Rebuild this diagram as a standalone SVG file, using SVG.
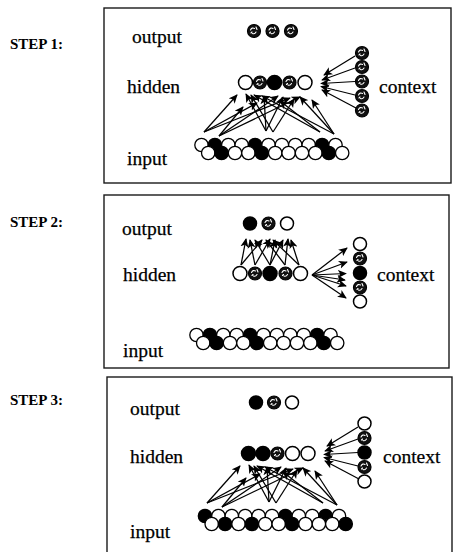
<svg xmlns="http://www.w3.org/2000/svg" xmlns:xlink="http://www.w3.org/1999/xlink" width="453" height="552" viewBox="0 0 453 552">
  <style>
    .frame { fill: none; stroke: #1a1a1a; stroke-width: 1.4; }
    .step { font-family: "Liberation Serif", "Times New Roman", serif; font-weight: bold; font-size: 15px; fill: #000; }
    .lbl { font-family: "Liberation Serif", "Times New Roman", serif; font-size: 19.5px; fill: #000; stroke: #000; stroke-width: 0.25; }
    .w { fill: #fff; stroke: #000; stroke-width: 1.5; }
    .b { fill: #000; stroke: #000; stroke-width: 1.5; }
    .in { stroke-width: 1.3; }
    .arr { stroke: #000; stroke-width: 1.25; fill: none; marker-end: url(#tip); }
  </style>
  <defs>
    <marker id="tip" viewBox="0 0 10 10" refX="9" refY="5" markerWidth="9" markerHeight="9" markerUnits="userSpaceOnUse" orient="auto">
      <path d="M0,0.5 L10,5 L0,9.5 L2.5,5 Z" fill="#000"/>
    </marker>
    <!-- partially active unit: dark disc with light flecks -->
    <g id="hu">
      <circle r="6.5" fill="#111" stroke="#000" stroke-width="1.2"/>
      <path d="M-3.5,-1 q1.5,-3 4,-1.5 M-1.5,2.5 q2,1 3.5,-1.5 M2,-4 l1,2.5 M-3,2 l1,-1" stroke="#fff" stroke-width="1.1" fill="none" stroke-linecap="round"/>
    </g>
    <!-- input-to-hidden and context-to-hidden wiring, shared by steps 1 and 3 -->
    <g id="wiring">
      <line class="arr" x1="204" y1="132" x2="237" y2="95"/>
      <line class="arr" x1="204" y1="132" x2="257" y2="103"/>
      <line class="arr" x1="204" y1="132" x2="290" y2="98"/>
      <line class="arr" x1="219" y1="136" x2="243" y2="107"/>
      <line class="arr" x1="219" y1="136" x2="278" y2="96"/>
      <line class="arr" x1="219" y1="136" x2="300" y2="97"/>
      <line class="arr" x1="266" y1="131" x2="246" y2="94"/>
      <line class="arr" x1="266" y1="131" x2="264" y2="96"/>
      <line class="arr" x1="266" y1="131" x2="283" y2="97"/>
      <line class="arr" x1="273" y1="132" x2="251" y2="95"/>
      <line class="arr" x1="273" y1="132" x2="294" y2="99"/>
      <line class="arr" x1="320" y1="132" x2="254" y2="95"/>
      <line class="arr" x1="320" y1="132" x2="280" y2="101"/>
      <line class="arr" x1="334" y1="134" x2="312" y2="100"/>
      <line class="arr" x1="334" y1="134" x2="262" y2="96"/>
      <line class="arr" x1="334" y1="134" x2="300" y2="97"/>
      <line class="arr" x1="355" y1="56" x2="324" y2="75"/>
      <line class="arr" x1="355" y1="68" x2="322" y2="80"/>
      <line class="arr" x1="355" y1="81.5" x2="321" y2="83.5"/>
      <line class="arr" x1="355" y1="95" x2="321" y2="86.5"/>
      <line class="arr" x1="356" y1="108" x2="322" y2="90"/>
    </g>
  </defs>

  <!-- ===== STEP 1 ===== -->
  <text class="step" x="10" y="49">STEP 1:</text>
  <rect class="frame" x="104" y="8" width="347" height="175"/>
  <text class="lbl" x="132" y="43">output</text>
  <text class="lbl" x="127" y="93">hidden</text>
  <text class="lbl" x="379" y="93">context</text>
  <text class="lbl" x="127" y="165">input</text>

  <g id="s1-connectors">
    <use xlink:href="#wiring"/>
  </g>

  <g id="s1-output">
    <use xlink:href="#hu" x="254" y="31"/>
    <use xlink:href="#hu" x="272.5" y="31"/>
    <use xlink:href="#hu" x="291" y="31"/>
  </g>
  <g id="s1-hidden">
    <circle class="w" cx="245.5" cy="82.5" r="7"/>
    <use xlink:href="#hu" x="260" y="82.5"/>
    <circle class="b" cx="274.5" cy="82.5" r="7"/>
    <use xlink:href="#hu" x="289.5" y="82.5"/>
    <circle class="w" cx="305" cy="82.5" r="7"/>
  </g>
  <g id="s1-context">
    <use xlink:href="#hu" x="362" y="53"/>
    <use xlink:href="#hu" x="362" y="67"/>
    <use xlink:href="#hu" x="362" y="81.5"/>
    <use xlink:href="#hu" x="362" y="96"/>
    <use xlink:href="#hu" x="362" y="110.5"/>
  </g>
  <g id="s1-input">
    <circle class="w in" cx="201.5" cy="145" r="6.7"/>
    <circle class="b in" cx="214.9" cy="145" r="6.7"/>
    <circle class="w in" cx="228.3" cy="145" r="6.7"/>
    <circle class="w in" cx="241.7" cy="145" r="6.7"/>
    <circle class="b in" cx="255.1" cy="145" r="6.7"/>
    <circle class="w in" cx="268.5" cy="145" r="6.7"/>
    <circle class="w in" cx="281.9" cy="145" r="6.7"/>
    <circle class="w in" cx="295.3" cy="145" r="6.7"/>
    <circle class="w in" cx="308.7" cy="145" r="6.7"/>
    <circle class="b in" cx="322.1" cy="145" r="6.7"/>
    <circle class="w in" cx="335.5" cy="145" r="6.7"/>
    <circle class="w in" cx="208.2" cy="153" r="6.7"/>
    <circle class="b in" cx="221.6" cy="153" r="6.7"/>
    <circle class="w in" cx="235" cy="153" r="6.7"/>
    <circle class="w in" cx="248.4" cy="153" r="6.7"/>
    <circle class="b in" cx="261.8" cy="153" r="6.7"/>
    <circle class="w in" cx="275.2" cy="153" r="6.7"/>
    <circle class="w in" cx="288.6" cy="153" r="6.7"/>
    <circle class="w in" cx="302" cy="153" r="6.7"/>
    <circle class="w in" cx="315.4" cy="153" r="6.7"/>
    <circle class="b in" cx="328.8" cy="153" r="6.7"/>
    <circle class="w in" cx="342.2" cy="153" r="6.7"/>
  </g>

  <!-- ===== STEP 2 ===== -->
  <text class="step" x="10" y="227">STEP 2:</text>
  <rect class="frame" x="104" y="195" width="345" height="173"/>
  <text class="lbl" x="122" y="235">output</text>
  <text class="lbl" x="123" y="281">hidden</text>
  <text class="lbl" x="377" y="281">context</text>
  <text class="lbl" x="123" y="357">input</text>

  <g id="s2-connectors">
    <g id="s2-hid-out">
      <line class="arr" x1="241" y1="265" x2="246" y2="239"/>
      <line class="arr" x1="241" y1="265" x2="262" y2="240"/>
      <line class="arr" x1="255" y1="265" x2="250" y2="240"/>
      <line class="arr" x1="255" y1="265" x2="270" y2="239"/>
      <line class="arr" x1="270" y1="265" x2="255" y2="240"/>
      <line class="arr" x1="270" y1="265" x2="275" y2="240"/>
      <line class="arr" x1="270" y1="265" x2="283" y2="240"/>
      <line class="arr" x1="285" y1="265" x2="266" y2="240"/>
      <line class="arr" x1="285" y1="265" x2="288" y2="239"/>
      <line class="arr" x1="299" y1="265" x2="273" y2="240"/>
      <line class="arr" x1="299" y1="265" x2="291" y2="240"/>
    </g>
    <g id="s2-hid-ctx">
      <line class="arr" x1="312" y1="275" x2="347" y2="248"/>
      <line class="arr" x1="312" y1="275" x2="347" y2="262"/>
      <line class="arr" x1="312" y1="275" x2="346" y2="273.5"/>
      <line class="arr" x1="312" y1="275" x2="345" y2="280"/>
      <line class="arr" x1="312" y1="275" x2="346" y2="286"/>
      <line class="arr" x1="312" y1="275" x2="346" y2="298"/>
    </g>
  </g>

  <g id="s2-output">
    <circle class="b" cx="250" cy="223.5" r="6.5"/>
    <use xlink:href="#hu" x="268.5" y="223.5"/>
    <circle class="w" cx="287" cy="223.5" r="6.5"/>
  </g>
  <g id="s2-hidden">
    <circle class="w" cx="240" cy="273.5" r="7"/>
    <use xlink:href="#hu" x="255" y="273.5"/>
    <circle class="b" cx="270" cy="273.5" r="7"/>
    <use xlink:href="#hu" x="285.5" y="273.5"/>
    <circle class="w" cx="300.5" cy="273.5" r="7"/>
  </g>
  <g id="s2-context">
    <circle class="w" cx="360" cy="244" r="6.5"/>
    <use xlink:href="#hu" x="360" y="258.5"/>
    <circle class="b" cx="360" cy="273" r="6.5"/>
    <use xlink:href="#hu" x="360" y="287.5"/>
    <circle class="w" cx="360" cy="301.5" r="6.5"/>
  </g>
  <g id="s2-input">
    <circle class="w in" cx="196.5" cy="335" r="6.7"/>
    <circle class="b in" cx="209.9" cy="335" r="6.7"/>
    <circle class="w in" cx="223.3" cy="335" r="6.7"/>
    <circle class="w in" cx="236.7" cy="335" r="6.7"/>
    <circle class="b in" cx="250.1" cy="335" r="6.7"/>
    <circle class="w in" cx="263.5" cy="335" r="6.7"/>
    <circle class="w in" cx="276.9" cy="335" r="6.7"/>
    <circle class="w in" cx="290.3" cy="335" r="6.7"/>
    <circle class="w in" cx="303.7" cy="335" r="6.7"/>
    <circle class="b in" cx="317.1" cy="335" r="6.7"/>
    <circle class="w in" cx="330.5" cy="335" r="6.7"/>
    <circle class="w in" cx="203.2" cy="343" r="6.7"/>
    <circle class="b in" cx="216.6" cy="343" r="6.7"/>
    <circle class="w in" cx="230" cy="343" r="6.7"/>
    <circle class="w in" cx="243.4" cy="343" r="6.7"/>
    <circle class="b in" cx="256.8" cy="343" r="6.7"/>
    <circle class="w in" cx="270.2" cy="343" r="6.7"/>
    <circle class="w in" cx="283.6" cy="343" r="6.7"/>
    <circle class="w in" cx="297" cy="343" r="6.7"/>
    <circle class="w in" cx="310.4" cy="343" r="6.7"/>
    <circle class="b in" cx="323.8" cy="343" r="6.7"/>
    <circle class="w in" cx="337.2" cy="343" r="6.7"/>
  </g>

  <!-- ===== STEP 3 ===== -->
  <text class="step" x="10" y="405">STEP 3:</text>
  <rect class="frame" x="107" y="377" width="345" height="185"/>
  <text class="lbl" x="130" y="415">output</text>
  <text class="lbl" x="130" y="463">hidden</text>
  <text class="lbl" x="383" y="463">context</text>
  <text class="lbl" x="130" y="538">input</text>

  <g id="s3-connectors">
    <use xlink:href="#wiring" transform="translate(3,371)"/>
  </g>

  <g id="s3-output">
    <circle class="b" cx="256" cy="402.5" r="6.5"/>
    <use xlink:href="#hu" x="274" y="402.5"/>
    <circle class="w" cx="292" cy="402.5" r="6.5"/>
  </g>
  <g id="s3-hidden">
    <circle class="b" cx="248.5" cy="453.5" r="7"/>
    <circle class="b" cx="263" cy="453.5" r="7"/>
    <use xlink:href="#hu" x="277.5" y="453.5"/>
    <circle class="w" cx="292.5" cy="453.5" r="7"/>
    <circle class="w" cx="308" cy="453.5" r="7"/>
  </g>
  <g id="s3-context">
    <circle class="w" cx="364.5" cy="423.5" r="6.5"/>
    <use xlink:href="#hu" x="364.5" y="438"/>
    <circle class="b" cx="364.5" cy="452.5" r="6.5"/>
    <use xlink:href="#hu" x="364.5" y="467"/>
    <circle class="w" cx="364.5" cy="481.5" r="6.5"/>
  </g>
  <g id="s3-input">
    <circle class="b in" cx="205" cy="516" r="6.7"/>
    <circle class="w in" cx="218.4" cy="516" r="6.7"/>
    <circle class="w in" cx="231.8" cy="516" r="6.7"/>
    <circle class="w in" cx="245.2" cy="516" r="6.7"/>
    <circle class="w in" cx="258.6" cy="516" r="6.7"/>
    <circle class="w in" cx="272" cy="516" r="6.7"/>
    <circle class="b in" cx="285.4" cy="516" r="6.7"/>
    <circle class="w in" cx="298.8" cy="516" r="6.7"/>
    <circle class="w in" cx="312.2" cy="516" r="6.7"/>
    <circle class="b in" cx="325.6" cy="516" r="6.7"/>
    <circle class="w in" cx="339" cy="516" r="6.7"/>
    <circle class="w in" cx="211.7" cy="524" r="6.7"/>
    <circle class="b in" cx="225.1" cy="524" r="6.7"/>
    <circle class="w in" cx="238.5" cy="524" r="6.7"/>
    <circle class="b in" cx="251.9" cy="524" r="6.7"/>
    <circle class="w in" cx="265.3" cy="524" r="6.7"/>
    <circle class="w in" cx="278.7" cy="524" r="6.7"/>
    <circle class="b in" cx="292.1" cy="524" r="6.7"/>
    <circle class="w in" cx="305.5" cy="524" r="6.7"/>
    <circle class="w in" cx="318.9" cy="524" r="6.7"/>
    <circle class="w in" cx="332.3" cy="524" r="6.7"/>
    <circle class="b in" cx="345.7" cy="524" r="6.7"/>
  </g>
</svg>
